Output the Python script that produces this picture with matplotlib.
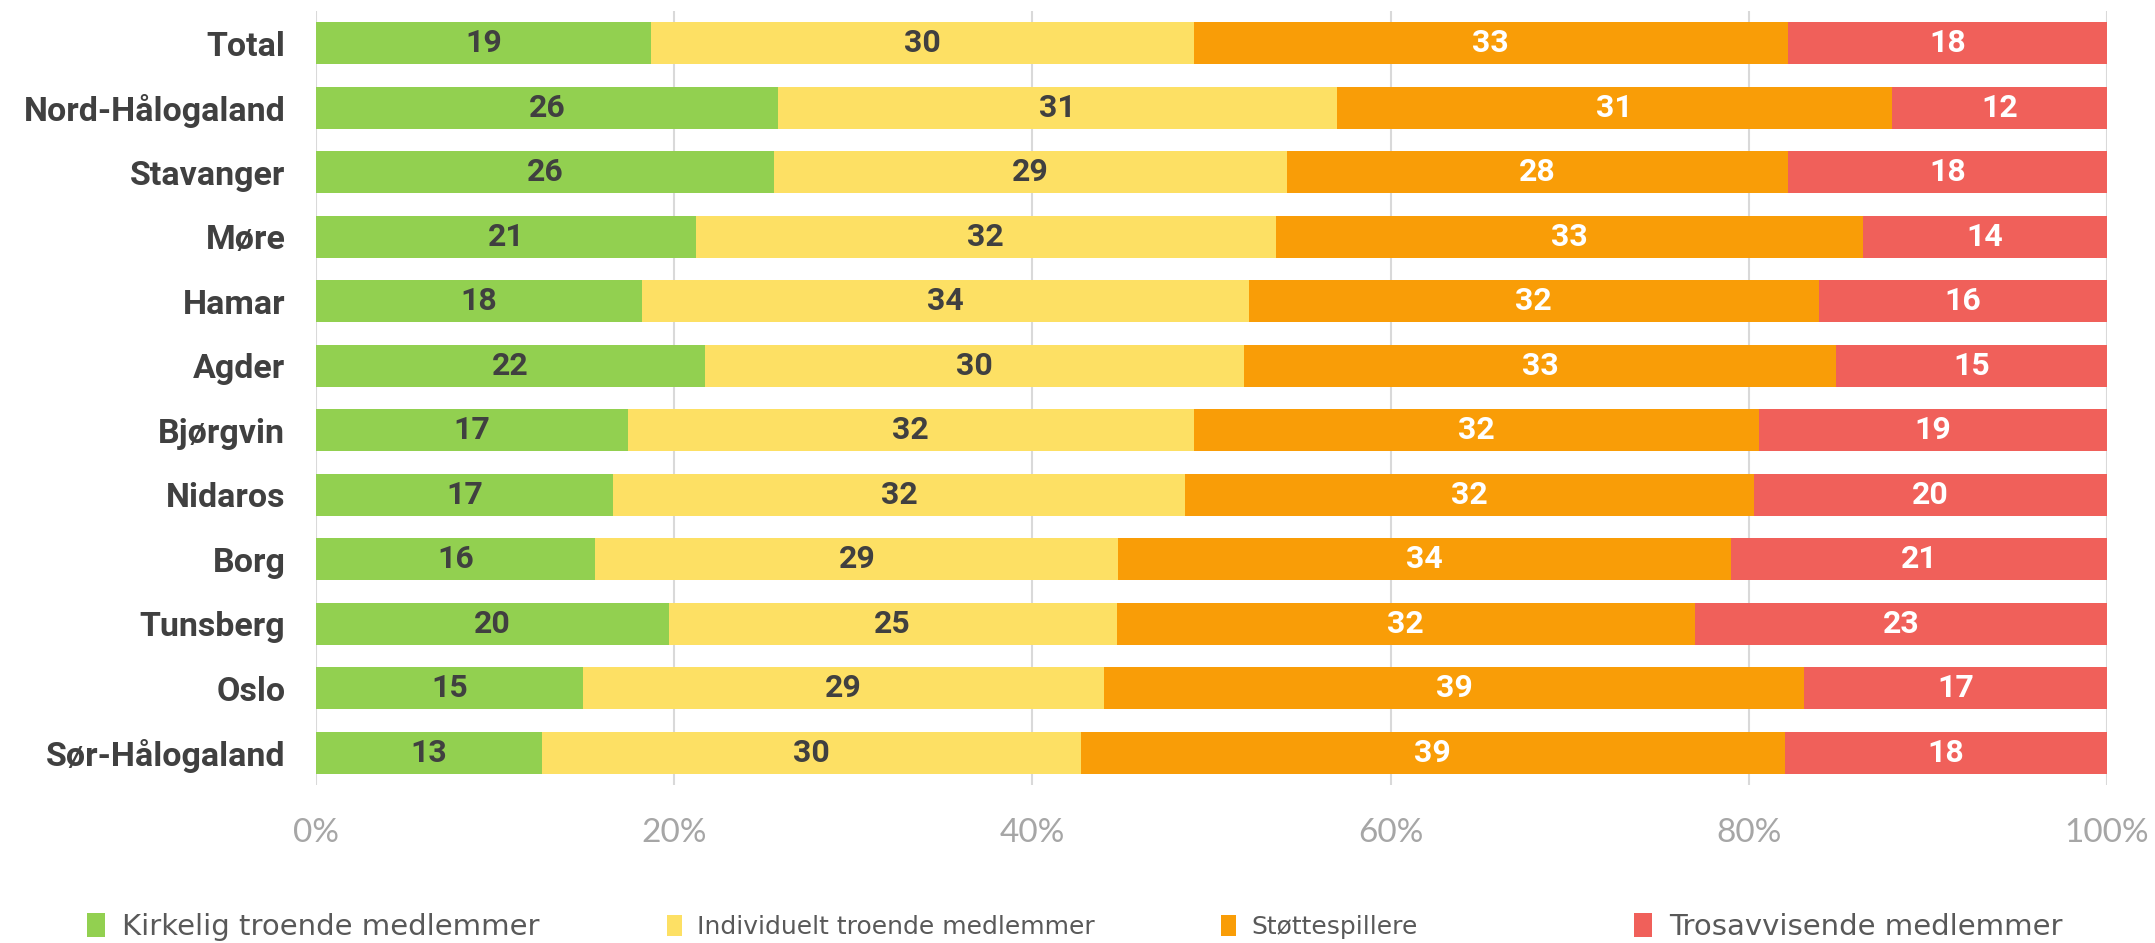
import numpy as np
import matplotlib.pyplot as plt
from matplotlib.patches import Patch

# data (percent of members)
categories = ["Total", "Nord-Hålogaland", "Stavanger", "Møre", "Hamar", "Agder",
              "Bjørgvin", "Nidaros", "Borg", "Tunsberg", "Oslo", "Sør-Hålogaland"]
kirkelig = [18.7, 25.8, 25.6, 21.2, 18.2, 21.7, 17.4, 16.6, 15.6, 19.7, 14.9, 12.6]
individuelt = [30.3, 31.2, 28.6, 32.4, 33.9, 30.1, 31.6, 31.9, 29.2, 25.0, 29.1, 30.1]
stotte = [33.2, 31.0, 28.0, 32.8, 31.8, 33.1, 31.6, 31.8, 34.2, 32.3, 39.1, 39.3]
trosavvis = [17.8, 12.0, 17.8, 13.6, 16.1, 15.1, 19.4, 19.7, 21.0, 23.0, 16.9, 18.0]

series_names = ["Kirkelig troende medlemmer", "Individuelt troende medlemmer",
                "Støttespillere", "Trosavvisende medlemmer"]
colors = ["#92D050", "#FDE064", "#F99D07", "#F0605A"]
label_colors = ["#404040", "#404040", "white", "white"]
xticks = [0, 20, 40, 60, 80, 100]

BOLDFONT = ["Roboto", "DejaVu Sans"]
THINFONT = ["Lato", "DejaVu Sans"]

fig = plt.figure(figsize=(21.55, 9.43), dpi=100)
ax = fig.add_axes([0.1466, 0.1676, 0.8311, 0.8207])

y = np.arange(len(categories))
left = np.zeros(len(categories))
for vals, name, col, lcol in zip([kirkelig, individuelt, stotte, trosavvis],
                                 series_names, colors, label_colors):
    vals = np.array(vals)
    bars = ax.barh(y, vals, left=left, height=0.655, color=col, label=name, zorder=2)
    ax.bar_label(bars, labels=["%.0f" % v for v in vals], label_type="center",
                 color=lcol, fontsize=23, fontweight="bold", family=BOLDFONT)
    left = left + vals

ax.set_ylim(len(categories) - 0.5, -0.5)
ax.set_xlim(0, 100)
ax.set_xticks(xticks)
ax.set_xticklabels(["%d%%" % t for t in xticks], color="#A6A6A6", fontsize=24,
                   fontweight="normal", family=THINFONT)
ax.set_yticks(y)
ax.set_yticklabels(categories, fontsize=24.5, fontweight="bold", color="#404040", family=BOLDFONT)
ax.tick_params(axis="x", length=0, pad=24)
ax.tick_params(axis="y", length=0, pad=22)
ax.grid(axis="x", color="#D9D9D9", linewidth=1.5, zorder=0)
ax.set_axisbelow(True)
for s in ax.spines.values():
    s.set_visible(False)

# legend, one entry at a time like the original's spread-out layout
leg_x = [0.035, 0.305, 0.562, 0.753]
leg_size = [21, 18, 18, 21]
for name, col, lx, fs in zip(series_names, colors, leg_x, leg_size):
    lg = fig.legend(handles=[Patch(facecolor=col, label=name)], loc="center left",
                    bbox_to_anchor=(lx, 0.017), frameon=False, handlelength=0.6,
                    handleheight=0.9, handletextpad=0.6, borderaxespad=0,
                    prop={"family": "DejaVu Sans", "size": fs})
    for t in lg.get_texts():
        t.set_color("#595959")

fig.savefig("out.png", dpi=100)
